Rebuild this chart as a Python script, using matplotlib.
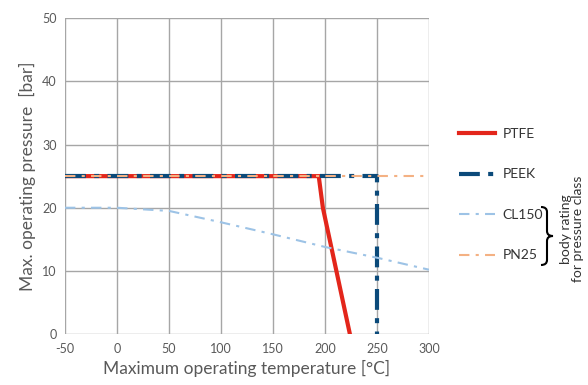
import matplotlib
matplotlib.use("Agg")
import matplotlib.pyplot as plt
from matplotlib.path import Path
from matplotlib.patches import PathPatch

# data
ptfe_t = [-50, 194, 198, 224]
ptfe_p = [25, 25, 20, 0]

peek_t = [-50, 250, 250]
peek_p = [25, 25, 0]

cl150_t = [-50, 0, 50, 100, 150, 200, 250, 300]
cl150_p = [20.0, 20.0, 19.5, 17.7, 15.8, 13.8, 12.1, 10.2]

pn25_t = [-50, 300]
pn25_p = [25, 25]

x_ticks = [-50, 0, 50, 100, 150, 200, 250, 300]
y_ticks = [0, 10, 20, 30, 40, 50]

grey = "#595959"
plt.rcParams["font.family"] = ["Lato", "DejaVu Sans"]
plt.rcParams["axes.unicode_minus"] = False

fig = plt.figure(figsize=(5.88, 3.85), dpi=100)
ax = fig.add_axes([0.1105, 0.132, 0.619, 0.821])

ax.plot(ptfe_t, ptfe_p, color="#E3261B", lw=3, label="PTFE", zorder=3,
        solid_joinstyle="miter")
ax.plot(peek_t, peek_p, color="#0B4A7A", lw=3, ls=(0, (5, 2, 1.2, 2)),
        label="PEEK", zorder=4)
ax.plot(cl150_t, cl150_p, color="#9DC3E6", lw=1.5, ls=(0, (5, 3, 1.5, 3)),
        label="CL150", zorder=5)
ax.plot(pn25_t, pn25_p, color="#F4B183", lw=1.5, ls=(0, (5, 3, 1.5, 3)),
        label="PN25", zorder=6)

ax.set_xlim(-50, 300)
ax.set_ylim(0, 50)
ax.set_xticks(x_ticks)
ax.set_yticks(y_ticks)
ax.grid(True, color="#A6A6A6", lw=1)
ax.set_axisbelow(True)
for s in ax.spines.values():
    s.set_visible(False)
ax.tick_params(length=0, colors=grey, labelsize=9, pad=6)

ax.set_xlabel("Maximum operating temperature [°C]", color=grey, fontsize=12.5)
ax.set_ylabel("Max. operating pressure  [bar]", color=grey, fontsize=12.5)

leg = ax.legend(loc="upper left", bbox_to_anchor=(0.76, 0.70),
                bbox_transform=fig.transFigure, frameon=False,
                handlelength=2.6, handletextpad=0.5, labelspacing=2.05,
                fontsize=10)
for t in leg.get_texts():
    t.set_color("#333333")

# curly brace grouping CL150 / PN25 (figure pixels -> fraction)
W, H = 588.0, 385.0
x0, xc, xt = 541 / W, 547 / W, 553 / W
yt, yb = 1 - 207 / H, 1 - 265 / H
ym = (yt + yb) / 2
d = 5 / H
verts = [(x0, yt), (xc, yt), (xc, yt - d),
         (xc, ym + d),
         (xc, ym), (xt, ym),
         (xc, ym), (xc, ym - d),
         (xc, yb + d),
         (xc, yb), (x0, yb)]
codes = [Path.MOVETO, Path.CURVE3, Path.CURVE3,
         Path.LINETO,
         Path.CURVE3, Path.CURVE3,
         Path.CURVE3, Path.CURVE3,
         Path.LINETO,
         Path.CURVE3, Path.CURVE3]
fig.add_artist(PathPatch(Path(verts, codes), transform=fig.transFigure,
                         fill=False, lw=1.5, color="black"))

fig.text(0.973, 0.405, "body rating\nfor pressure class", rotation=90,
         ha="center", va="center", fontsize=10, color="#333333",
         linespacing=1.0)

fig.savefig("out.png", dpi=100)
